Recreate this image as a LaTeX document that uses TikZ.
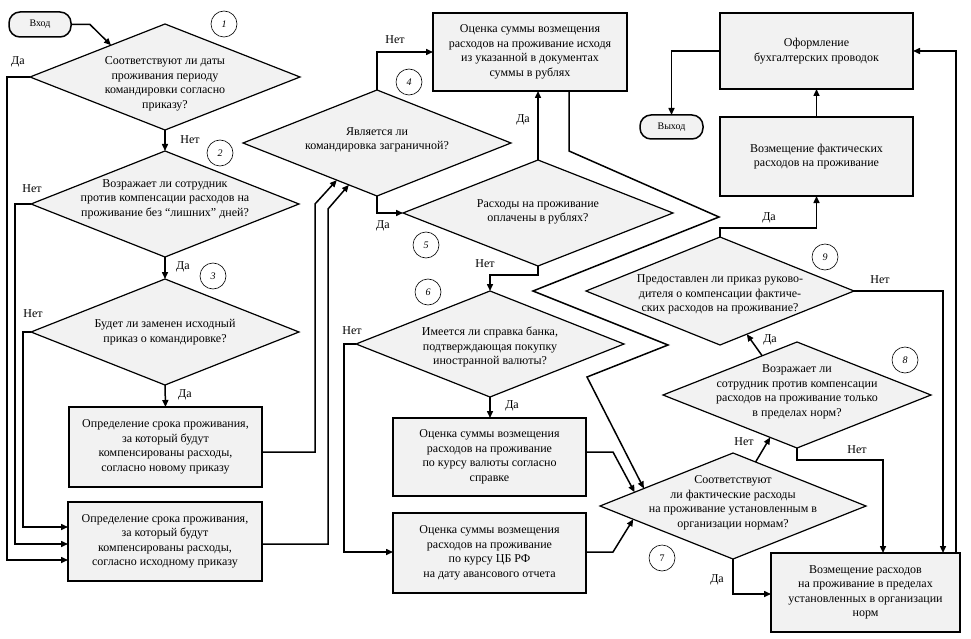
\documentclass[tikz,border=0pt]{standalone}
\usepackage{fontspec}
\setmainfont{Liberation Serif}
\usetikzlibrary{shapes.geometric,arrows.meta,calc}
\definecolor{fillg}{RGB}{242,242,242}
\begin{document}
\begin{tikzpicture}[x=1pt,y=-1pt,
  font=\fontsize{12}{14.5}\selectfont,
  box/.style={draw,line width=1.6pt,fill=fillg,align=center,inner sep=2pt,outer sep=0pt},
  dia/.style={draw,shape=diamond,line width=1.2pt,fill=fillg,minimum width=268pt,minimum height=106pt,inner sep=0pt,outer sep=0pt},
  dtxt/.style={align=center,inner sep=0pt},
  term/.style={draw,line width=1.5pt,fill=fillg,rounded corners=11pt,minimum width=62pt,minimum height=25pt,inner sep=0pt,outer sep=0pt,font=\fontsize{10}{12}\selectfont},
  circ/.style={draw,circle,line width=0.6pt,minimum size=26pt,inner sep=0pt,font=\fontsize{10}{12}\selectfont\itshape},
  lab/.style={inner sep=0pt},
  arr/.style={line width=1.5pt,-{Triangle[length=7pt,width=6pt]}}]
\fill[white] (0,0) rectangle (971,639);
\useasboundingbox (0,0) rectangle (971,639);

% terminals
\node[term] (in) at (40,24.5) {Вход};
\node[term,minimum width=63pt,minimum height=24pt] (out) at (671.5,127) {Выход};

% diamonds
\node[dia,minimum width=270pt] (d1) at (165,77) {};
\node[dtxt] (t1) at (165,84) {Соответствуют ли даты\\проживания  периоду\\командировки согласно\\приказу?};
\node[dia] (d2) at (165,204) {};
\node[dtxt] (t2) at (165,199) {Возражает ли сотрудник\\против компенсации расходов на\\проживание без “лишних” дней?};
\node[dia] (d3) at (165,332) {};
\node[dtxt] (t3) at (165,332) {Будет ли заменен исходный\\приказ о командировке?};
\node[dia] (d4) at (377,143) {};
\node[dtxt] (t4) at (377,140) {Является ли\\командировка заграничной?};
\node[dia,minimum width=270pt] (d5) at (538,213) {};
\node[dtxt] (t5) at (538,212) {Расходы на проживание\\оплачены в рублях?};
\node[dia] (d6) at (490,344) {};
\node[dtxt] (t6) at (490,347) {Имеется ли справка банка,\\подтверждающая  покупку\\иностранной  валюты?};
\node[dia,minimum width=266pt] (d7) at (733,506) {};
\node[dtxt] (t7) at (733,503) {Соответствуют\\ли фактические расходы\\на проживание  установленным  в\\организации  нормам?};
\node[dia] (d8) at (797,395) {};
\node[dtxt] (t8) at (797,392) {Возражает ли\\сотрудник против компенсации\\расходов на проживание  только\\в пределах норм?};
\node[dia,minimum height=108pt] (d9) at (720,291) {};
\node[dtxt] (t9) at (720,294.5) {Предоставлен ли приказ руково-\\дителя о компенсации фактиче-\\ских расходов на проживание?};

% boxes
\node[box,minimum width=193pt,minimum height=80pt] (b1) at (165.5,447) {Определение срока проживания,\\за который будут\\компенсированы расходы,\\согласно новому приказу};
\node[box,minimum width=194pt,minimum height=79pt] (b2) at (165,541.5) {Определение срока проживания,\\за который будут\\компенсированы расходы,\\согласно исходному приказу};
\node[box,minimum width=194pt,minimum height=78pt] (b3) at (530,52) {Оценка суммы возмещения\\расходов на проживание  исходя\\из указанной в документах\\суммы в рублях};
\node[box,minimum width=193pt,minimum height=78pt] (b4) at (489.5,457) {Оценка суммы возмещения\\расходов на проживание\\по курсу валюты согласно\\справке};
\node[box,minimum width=193pt,minimum height=80pt] (b5) at (489.5,553) {Оценка суммы возмещения\\расходов на проживание\\по курсу ЦБ РФ\\на дату авансового отчета};
\node[box,minimum width=189pt,minimum height=79pt] (b6) at (865.5,592.5) {Возмещение расходов\\на проживание в пределах\\установленных в организации\\норм};
\node[box,minimum width=193pt,minimum height=79pt] (b7) at (816.5,156.5) {Возмещение фактических\\расходов на проживание};
\node[box,minimum width=193pt,minimum height=76pt] (b8) at (816.5,51) {Оформление\\бухгалтерских  проводок};

% circles
\node[circ] (c1) at (224,24) {1};
\node[circ] (c2) at (220,153) {2};
\node[circ] (c3) at (213,276) {3};
\node[circ] (c4) at (409,82) {4};
\node[circ] (c5) at (426,245) {5};
\node[circ] (c6) at (428,292) {6};
\node[circ,font=\fontsize{10}{12}\selectfont] (c7) at (662,558) {7};
\node[circ] (c8) at (905,360) {8};
\node[circ] (c9) at (825,257) {9};

% connectors
\draw[arr] (in.east) -- (90,24.5) -- ($(d1.west)!0.6!(d1.north)$);
\draw[arr] (d1.south) -- (d2.north);
\draw[arr] (d2.south) -- (d3.north);
\draw[arr] (d3.south) -- (b1.north);
\draw[arr] (d1.west) -- (7,77) -- (7,560) -- ([yshift=-18.5pt]b2.west);
\draw[arr] (d2.west) -- (15,204) -- (15,544) -- ([yshift=-2.5pt]b2.west);
\draw[arr] (d3.west) -- (23,332) -- (23,527) -- ([yshift=14.5pt]b2.west);
\draw[arr] ([yshift=-5pt]b1.east) -- (315,452) -- (315,204) -- ($(d4.west)!0.7!(d4.south)$);
\draw[arr] ([yshift=-2.5pt]b2.east) -- (328,544) -- (328,209) -- ($(d4.west)!0.79!(d4.south)$);
\draw[arr] (d4.north) |- (b3.west);
\draw[arr] (d4.south) |- (d5.west);
\draw[arr] (d5.north) -- (d5.north |- b3.south);
\draw[arr] (d5.south) -- ++(0,9) -| (d6.north);
\draw[arr] (d6.west) -- ++(-12,0) |- ([yshift=1pt]b5.west);
\draw[arr] (d6.south) -- (d6.south |- b4.north);
\draw[arr] ([xshift=39pt]b3.south) -- (569,151) -- (719,217) -- (533,291) -- (668,345) -- (587,377) -- ($(d7.west)!0.33!(d7.north)$);
\draw[arr] ([yshift=5pt]b4.east) -- (613,452) -- ($(d7.west)!0.26!(d7.north)$);
\draw[arr] ([yshift=1pt]b5.east) -- (613,552) -- ($(d7.west)!0.25!(d7.south)$);
\draw[arr] ($(d7.north)!0.17!(d7.east)$) -- ($(d8.west)!0.8!(d8.south)$);
\draw[arr] (d7.south) |- ([yshift=-1.5pt]b6.west);
\draw[arr] ($(d8.west)!0.74!(d8.north)$) -- ($(d9.south)!0.2!(d9.east)$);
\draw[arr] (d8.south) -- ++(0,12) -| ([xshift=17.5pt]b6.north);
\draw[arr] (d9.east) -| ([xshift=77.5pt]b6.north);
\draw[arr] (d9.north) -- ++(0,-9) -| (b7.south);
\draw[arr] (b7.north) -- (b8.south);
\draw[arr] (b8.west) -| (out.north);
\draw[arr] ([xshift=90.5pt]b6.north) |- (b8.east);

% labels
\node[lab] (l1) at (18,62) {Да};
\node[lab] (l2) at (190,140) {Нет};
\node[lab] (l3) at (32,189) {Нет};
\node[lab] (l4) at (183,267) {Да};
\node[lab] (l5) at (33,314) {Нет};
\node[lab] (l6) at (185,395) {Да};
\node[lab] (l7) at (395,40) {Нет};
\node[lab] (l8) at (383,226) {Да};
\node[lab] (l9) at (523,120) {Да};
\node[lab] (l10) at (485,264) {Нет};
\node[lab] (l11) at (352,331) {Нет};
\node[lab] (l12) at (512,406) {Да};
\node[lab] (l13) at (744,442) {Нет};
\node[lab] (l14) at (717,580) {Да};
\node[lab] (l15) at (770,340) {Да};
\node[lab] (l16) at (857,450) {Нет};
\node[lab] (l17) at (880,280) {Нет};
\node[lab] (l18) at (769,218) {Да};
\end{tikzpicture}
\end{document}
